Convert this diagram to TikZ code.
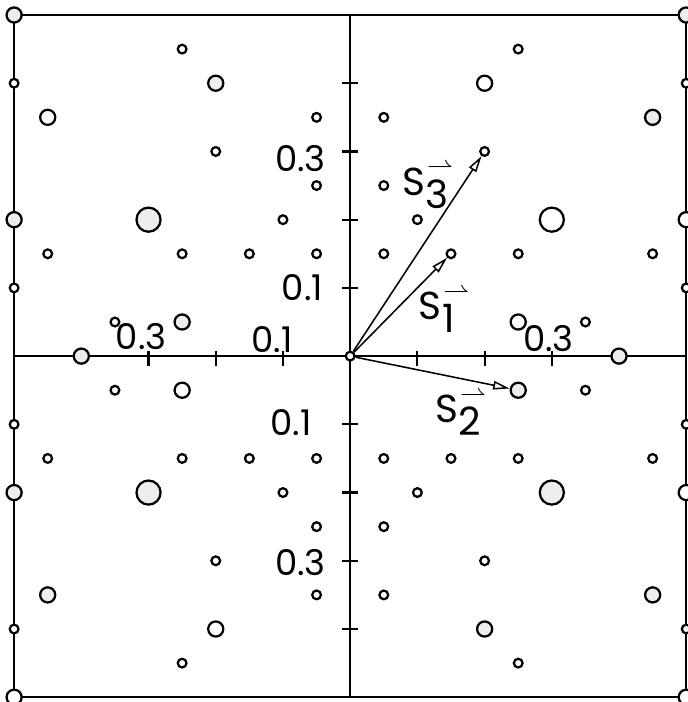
\documentclass[tikz,border=0pt]{standalone}
\usepackage{fontspec}
\setmainfont{Poppins}
\usetikzlibrary{arrows.meta}
\newcommand{\svec}[1]{S\rlap{\raisebox{9pt}{\kern0.8pt\fontsize{11}{11}\selectfont$\rightharpoonup$}}\raisebox{-5.5pt}{\kern0.3pt#1}}
\begin{document}
\begin{tikzpicture}[x=1cm, y=1.015cm,
    spot/.style={circle, draw, line width=0.95pt, inner sep=0pt, fill=white},
    sm/.style={spot, minimum size=3.7pt},
    md/.style={spot, minimum size=6.4pt},
    lg/.style={spot, minimum size=10.2pt},
    grain/.style={fill=black!7},
    lbl/.style={font=\fontsize{15}{17}\selectfont, inner sep=0pt},
    vlbl/.style={font=\fontsize{16.5}{18}\selectfont, inner sep=0pt, anchor=base west},
    vec/.style={line width=0.65pt, -{Triangle[open, length=7pt, width=3.6pt]}}]
    \useasboundingbox (-5.21,-5.07) rectangle (5.015,5.22);
    % frame, axes and ticks
    \draw[line width=1pt] (-5,-5) rectangle (5,5);
    \draw[line width=1pt] (-5,0) -- (5,0) (0,-5) -- (0,5);
    \draw[line width=0.9pt] (-0.12,1) -- (0.12,1) (-0.12,2) -- (0.12,2) (-0.12,3) -- (0.12,3) (-0.12,4) -- (0.12,4)
      (-0.12,-1) -- (0.12,-1) (-0.12,-2) -- (0.12,-2) (-0.12,-3) -- (0.12,-3) (-0.12,-4) -- (0.12,-4)
      (1,0.08) -- (1,-0.15) (2,0.08) -- (2,-0.15) (3,0.08) -- (3,-0.15)
      (-1,0.08) -- (-1,-0.15) (-2,0.08) -- (-2,-0.15) (-3,0.08) -- (-3,-0.15);
    \node[lbl] (v3) at (-0.74,2.9) {0.3};
    \node[lbl] (v1) at (-0.71,1.01) {0.1};
    \node[lbl] (w1) at (-0.88,-0.98) {0.1};
    \node[lbl] (w3) at (-0.74,-3.02) {0.3};
    \node[lbl] (h3) at (-3.11,0.29) {0.3};
    \node[lbl] (h1) at (-1.16,0.24) {0.1};
    \node[lbl] (k3) at (2.95,0.26) {0.3};
    % spots on the frame and on the axis
    \node[md, grain] (l5) at (-5,5) {};
    \node[sm] (l4) at (-5,4) {};
    \node[md, grain] (l2) at (-5,2) {};
    \node[sm] (l1) at (-5,1) {};
    \node[sm] (l-1) at (-5,-1) {};
    \node[md, grain] (l-2) at (-5,-2) {};
    \node[sm] (l-4) at (-5,-4) {};
    \node[md] (l-5) at (-5,-5) {};
    \node[md, grain] (r5) at (5,5) {};
    \node[sm] (r4) at (5,4) {};
    \node[md] (r2) at (5,2) {};
    \node[sm] (r1) at (5,1) {};
    \node[sm] (r-1) at (5,-1) {};
    \node[md] (r-2) at (5,-2) {};
    \node[sm] (r-4) at (5,-4) {};
    \node[md] (r-5) at (5,-5) {};
    \node[md, grain] (x-4) at (-4,0) {};
    \node[md, grain] (x4) at (4,0) {};
    \node[sm] (o) at (0,0) {};
    % upper left
    \node[sm] (a1) at (-2.5,4.5) {};
    \node[md, grain] (a2) at (-2,4) {};
    \node[md] (a3) at (-4.5,3.5) {};
    \node[sm] (a4) at (-0.5,3.5) {};
    \node[sm] (a5) at (-2,3) {};
    \node[sm] (a6) at (-0.5,2.5) {};
    \node[lg, grain] (a7) at (-3,2) {};
    \node[sm] (a8) at (-1,2) {};
    \node[sm] (a9) at (-4.5,1.5) {};
    \node[sm] (a10) at (-2.5,1.5) {};
    \node[sm] (a11) at (-1.5,1.5) {};
    \node[sm] (a12) at (-0.5,1.5) {};
    \node[sm] (a13) at (-3.5,0.5) {};
    \node[md, grain] (a14) at (-2.5,0.5) {};
    % upper right
    \node[sm] (b1) at (2.5,4.5) {};
    \node[md] (b2) at (2,4) {};
    \node[sm] (b3) at (0.5,3.5) {};
    \node[md, grain] (b4) at (4.5,3.5) {};
    \node[sm] (b5) at (2,3) {};
    \node[sm] (b6) at (0.5,2.5) {};
    \node[sm] (b7) at (1,2) {};
    \node[lg] (b8) at (3,2) {};
    \node[sm] (b9) at (0.5,1.5) {};
    \node[sm] (b10) at (1.5,1.5) {};
    \node[sm] (b11) at (2.5,1.5) {};
    \node[sm] (b12) at (4.5,1.5) {};
    \node[md] (b13) at (2.5,0.5) {};
    \node[sm] (b14) at (3.5,0.5) {};
    % lower left
    \node[sm] (c1) at (-3.5,-0.5) {};
    \node[md] (c2) at (-2.5,-0.5) {};
    \node[sm] (c3) at (-4.5,-1.5) {};
    \node[sm] (c4) at (-2.5,-1.5) {};
    \node[sm] (c5) at (-1.5,-1.5) {};
    \node[sm] (c6) at (-0.5,-1.5) {};
    \node[lg, grain] (c7) at (-3,-2) {};
    \node[sm] (c8) at (-1,-2) {};
    \node[sm] (c9) at (-0.5,-2.5) {};
    \node[sm] (c10) at (-2,-3) {};
    \node[md, grain] (c11) at (-4.5,-3.5) {};
    \node[sm] (c12) at (-0.5,-3.5) {};
    \node[md] (c13) at (-2,-4) {};
    \node[sm] (c14) at (-2.5,-4.5) {};
    % lower right
    \node[md, grain] (d1) at (2.5,-0.5) {};
    \node[sm] (d2) at (3.5,-0.5) {};
    \node[sm] (d3) at (0.5,-1.5) {};
    \node[sm] (d4) at (1.5,-1.5) {};
    \node[sm] (d5) at (2.5,-1.5) {};
    \node[sm] (d6) at (4.5,-1.5) {};
    \node[sm] (d7) at (1,-2) {};
    \node[lg, grain] (d8) at (3,-2) {};
    \node[sm] (d9) at (0.5,-2.5) {};
    \node[sm] (d10) at (2,-3) {};
    \node[sm] (d11) at (0.5,-3.5) {};
    \node[md, grain] (d12) at (4.5,-3.5) {};
    \node[md, grain] (d13) at (2,-4) {};
    \node[sm] (d14) at (2.5,-4.5) {};
    % vectors
    \draw[vec] (o) -- (b10);
    \draw[vec] (o) -- (d1);
    \draw[vec] (o) -- (b5);
    \node[vlbl] (s3) at (0.77,2.36) {\svec{3}};
    \node[vlbl] (s1) at (1.01,0.53) {\svec{1}};
    \node[vlbl] (s2) at (1.26,-0.97) {\svec{2}};
\end{tikzpicture}
\end{document}
